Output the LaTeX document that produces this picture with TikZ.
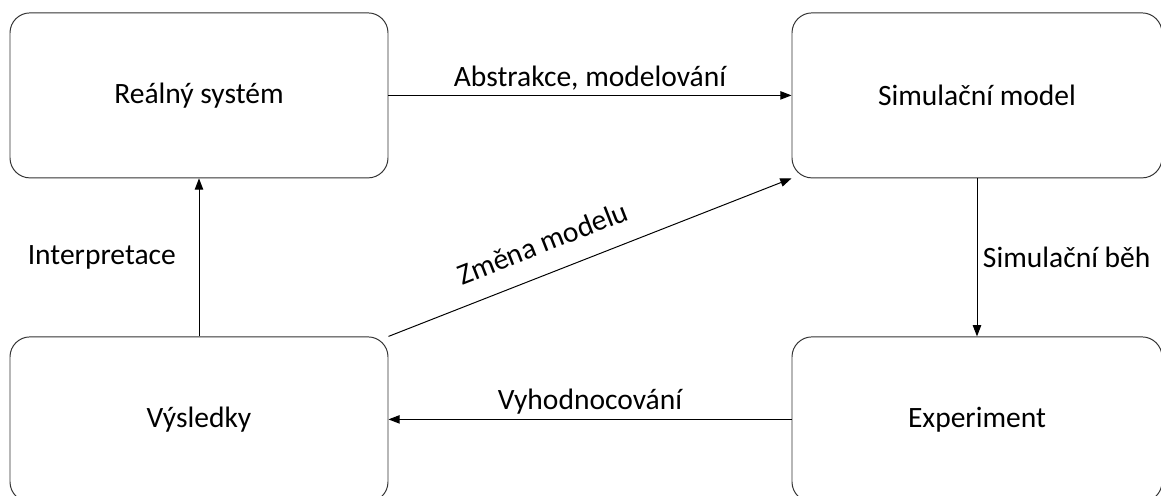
\documentclass[tikz,border=0pt]{standalone}
\usepackage{fontspec}
\setmainfont{Carlito}
\usetikzlibrary{arrows.meta}
\tikzset{
  box/.style={draw=black!80, line width=0.7pt, rounded corners=0.5cm,
    minimum width=9.45cm, minimum height=4.125cm, align=center},
  flow/.style={->, line width=0.7pt}
}
\begin{document}
\begin{tikzpicture}[scale=1.0, >={Triangle[length=8pt,width=6pt]},
    font=\fontsize{21}{25}\selectfont]
  \useasboundingbox (0,0) rectangle (29.025,12.375);
  % Boxes
  \node[box] (real) at (4.975,9.99) {Reálný systém};
  \node[box, minimum width=9.25cm] (sim) at (24.425,9.99) {Simulační model};
  \node[box] (vys) at (4.975,1.89) {Výsledky};
  \node[box, minimum width=9.25cm] (exper) at (24.425,1.89) {Experiment};
  % Connectors
  \draw[flow] (real.east) -- (sim.west) node[midway, above] {Abstrakce, modelování};
  \draw[flow] (sim.south) -- (exper.north) node[midway, right=0.02cm] {Simulační běh};
  \draw[flow] (exper.west) -- (vys.east) node[midway, above] {Vyhodnocování};
  \draw[flow] (vys.north) -- (real.south) node[midway, left=0.45cm] {Interpretace};
  \draw[flow] (vys.north east) -- (sim.south west)
    node[pos=0.41, above=11pt, sloped] {Změna modelu};
\end{tikzpicture}
\end{document}
